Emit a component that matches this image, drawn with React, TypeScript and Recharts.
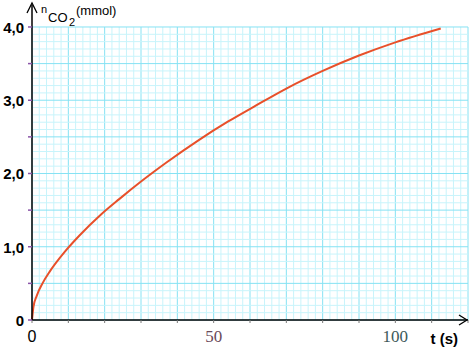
import React from "react";
import {
  LineChart,
  Line,
  XAxis,
  YAxis,
  ReferenceLine,
  ReferenceDot,
} from "recharts";

// values: time (s) -> n(CO2) in mmol
const times = [0, 0.4, 1.3, 3, 5, 9, 13, 19, 24, 30, 37, 46, 54, 61, 70, 80, 90, 100, 112.5];
const moles = [0, 0.18, 0.33, 0.51, 0.67, 0.93, 1.15, 1.44, 1.65, 1.89, 2.15, 2.46, 2.71, 2.91, 3.16, 3.4, 3.61, 3.79, 3.98];

const xTicks = [0, 10, 20, 30, 40, 50, 60, 70, 80, 90, 100, 110, 120];
const yTicks = [0, 0.5, 1, 1.5, 2, 2.5, 3, 3.5, 4];
const xLabels: Record<number, string> = { 0: "0", 50: "50", 100: "100" };

// millimetre paper: minor lines every 2 s / 0.1 mmol
const minorX = Array.from({ length: 61 }, (_, i) => i * 2);
const minorY = Array.from({ length: 41 }, (_, i) => Math.round(i * 10) / 100);

const data = times.map((t, i) => ({ t, n: moles[i] }));

const GRID_MINOR = "#c8f4fb";
const GRID_MAJOR = "#86e2f3";
const CURVE = "#e8502a";

function XTick(props: any) {
  const { x, y, payload } = props;
  const label = xLabels[payload.value];
  if (!label) return null;
  const serif = payload.value !== 0;
  return (
    <text
      x={x}
      y={y + 17}
      textAnchor="middle"
      fontFamily={serif ? "Liberation Serif, serif" : "Liberation Sans, Arial"}
      fontSize={serif ? 17 : 16}
      fill={payload.value === 50 ? "#6a4a5a" : payload.value === 100 ? "#3d5a5a" : "#000"}
    >
      {label}
    </text>
  );
}

function YTick(props: any) {
  const { x, y, payload } = props;
  const v = payload.value;
  if (v % 1 !== 0) return null;
  const label = v === 0 ? "0" : v.toFixed(1).replace(".", ",");
  return (
    <text
      x={x - 2}
      y={y + 6}
      textAnchor="end"
      fontFamily="Liberation Sans, Arial"
      fontWeight="bold"
      fontSize={15}
      fill="#000"
    >
      {label}
    </text>
  );
}

function XArrow(props: any) {
  const { cx, cy } = props;
  return (
    <g>
      <path d={`M${cx - 9},${cy - 5} L${cx - 1},${cy} L${cx - 9},${cy + 5}`} stroke="#000" strokeWidth={1.3} fill="none" />
      <text x={cx - 10} y={cy + 24} textAnchor="end" fontFamily="Liberation Sans, Arial" fontWeight="bold" fontSize={15} fill="#000">
        t (s)
      </text>
    </g>
  );
}

function YArrow(props: any) {
  const { cx, cy } = props;
  return (
    <g fontFamily="Liberation Sans, Arial" fill="#000">
      <path d={`M${cx - 5},${cy + 8} L${cx},${cy - 2} L${cx + 5},${cy + 8}`} stroke="#000" strokeWidth={1.3} fill="none" />
      <text x={cx + 9} y={cy + 8} fontSize={11}>n</text>
      <text x={cx + 16} y={cy + 17} fontSize={13}>CO</text>
      <text x={cx + 37} y={cy + 21} fontSize={11}>2</text>
      <text x={cx + 44} y={cy + 10} fontSize={13}>(mmol)</text>
    </g>
  );
}

export default function App() {
  return (
    <div style={{ position: "absolute", left: 0, top: 0, width: 471, height: 348, background: "#fff" }}>
      <LineChart
        width={471}
        height={348}
        data={data}
        margin={{ top: 5, right: 3, bottom: 0, left: 0 }}
      >
        {minorX.map((v) => (
          <ReferenceLine
            key={`mx${v}`}
            segment={[{ x: v, y: 0 }, { x: v, y: 4 }]}
            stroke={v % 10 === 0 ? GRID_MAJOR : GRID_MINOR}
            strokeWidth={1}
          />
        ))}
        {minorY.map((v) => (
          <ReferenceLine
            key={`my${v}`}
            segment={[{ x: 0, y: v }, { x: 120, y: v }]}
            stroke={Math.round(v * 10) % 5 === 0 ? GRID_MAJOR : GRID_MINOR}
            strokeWidth={1}
          />
        ))}
        <XAxis
          dataKey="t"
          type="number"
          domain={[0, 120]}
          ticks={xTicks}
          interval={0}
          height={28}
          axisLine={{ stroke: "#000", strokeWidth: 1.5 }}
          tickLine={{ stroke: "#777" }}
          tickSize={3}
          tick={<XTick />}
        />
        <YAxis
          type="number"
          domain={[0, 4.3]}
          ticks={yTicks}
          interval={0}
          width={32}
          axisLine={{ stroke: "#000", strokeWidth: 1.5 }}
          tickLine={{ stroke: "#8a55a8", strokeWidth: 1.5 }}
          tickSize={4}
          tick={<YTick />}
        />
        <Line
          type="monotone"
          dataKey="n"
          stroke={CURVE}
          strokeWidth={2}
          dot={false}
          isAnimationActive={false}
        />
        <ReferenceDot x={120} y={0} r={0} ifOverflow="visible" shape={<XArrow />} />
        <ReferenceDot x={0} y={4.3} r={0} ifOverflow="visible" shape={<YArrow />} />
      </LineChart>
    </div>
  );
}
